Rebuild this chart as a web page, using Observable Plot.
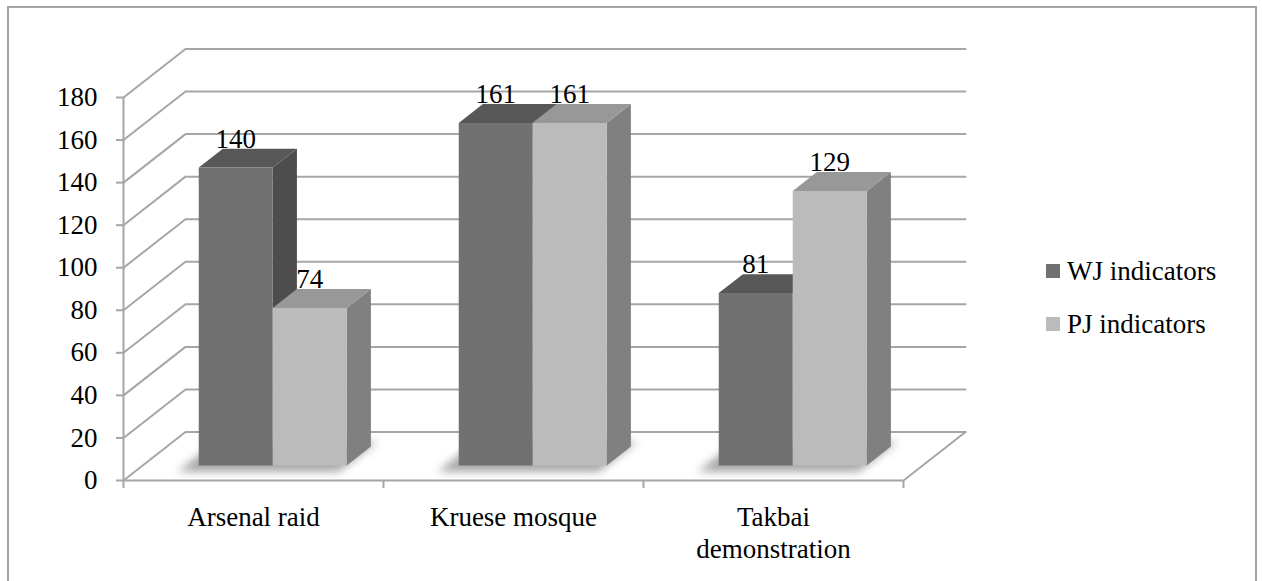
<!DOCTYPE html>
<html>
<head>
<meta charset="utf-8">
<script src="https://cdn.jsdelivr.net/npm/d3@7"></script>
<script src="https://cdn.jsdelivr.net/npm/@observablehq/plot@0.6"></script>
<style>
  html, body { margin: 0; padding: 0; background: #fff; overflow: hidden; }
  #wrap { position: relative; width: 1262px; height: 581px; overflow: hidden; }
  #frame { position: absolute; left: 7px; top: 6px; width: 1246px; height: 600px;
           border: 2px solid #a3a3a3; border-bottom: none; pointer-events: none; }
  #legend { position: absolute; left: 1046px; top: 253px; font-family: "Liberation Serif", serif;
            font-size: 27px; color: #000; }
  #legend .row { display: flex; align-items: center; height: 36px; margin-bottom: 17px; }
  #legend .sw { width: 14px; height: 14px; margin-right: 7px; }
</style>
</head>
<body>
<div id="wrap">
  <div id="chart"></div>
  <div id="frame"></div>
  <div id="legend"></div>
</div>
<script>
// ---- data ----
const categories = ["Arsenal raid", "Kruese mosque", "Takbai\ndemonstration"];
const series = ["WJ indicators", "PJ indicators"];
const wjValues = [140, 161, 81];
const pjValues = [74, 161, 129];
const yTicks = [0, 20, 40, 60, 80, 100, 120, 140, 160, 180];

// ---- styles ----
const frontColors = ["#717171", "#bbbbbb"];
const topColors = ["#585858", "#989898"];
const sideColors = ["#4d4d4d", "#808080"];
const gridColor = "#a6a6a6";
const font = "Liberation Serif";

// 3-D geometry (in data units): depth of the box along x (bands) and y (values)
const Dx = 0.2385, Dy = 22.8;
const barW = 0.2846, barGap = 0.2154;
const tf = 0.31, tb = 0.70;

const valuesBySeries = [wjValues, pjValues];

function barPolys(s) {
  const faces = {front: [], top: [], side: []};
  valuesBySeries[s].forEach((v, i) => {
    const xL = i + barGap + s * barW + tf * Dx, xR = xL + barW;
    const y0 = tf * Dy, yv = v + tf * Dy;
    const ddx = (tb - tf) * Dx, ddy = (tb - tf) * Dy;
    const id = `${s}-${i}`;
    faces.front.push(...[[xL, y0], [xR, y0], [xR, yv], [xL, yv]].map(([x, y]) => ({x, y, id})));
    faces.top.push(...[[xL, yv], [xR, yv], [xR + ddx, yv + ddy], [xL + ddx, yv + ddy]].map(([x, y]) => ({x, y, id})));
    faces.side.push(...[[xR, y0], [xR, yv], [xR + ddx, yv + ddy], [xR + ddx, y0 + ddy]].map(([x, y]) => ({x, y, id})));
  });
  return faces;
}

const labels = [];
valuesBySeries.forEach((vals, s) => vals.forEach((v, i) => {
  labels.push({x: i + barGap + s * barW + tf * Dx + barW / 2, y: v + tb * Dy, text: String(v)});
}));

// gridlines: front-left diagonal + back wall horizontal
const grid = [];
yTicks.forEach(t => {
  grid.push({x: 0, y: t, id: t}, {x: Dx, y: t + Dy, id: t}, {x: categories.length + Dx, y: t + Dy, id: t});
});
const floorEdge = [
  {x: 0, y: 0}, {x: categories.length, y: 0}, {x: categories.length + Dx, y: Dy}
];

// soft shadows on the floor beneath each pair
const shadows = [];
categories.forEach((c, i) => {
  const xa = i + barGap - 0.05, xb = i + barGap + 2 * barW;
  [[xa + 0.18 * Dx, 0.18 * Dy], [xb + 0.18 * Dx, 0.18 * Dy], [xb + 0.8 * Dx, 0.8 * Dy], [xa + 0.8 * Dx, 0.8 * Dy]]
    .forEach(([x, y]) => shadows.push({x, y, id: i}));
});

const wj = barPolys(0), pj = barPolys(1);
const poly = (data, fill) => Plot.line(data, {x: "x", y: "y", z: "id", fill, stroke: "none", curve: "linear-closed"});

const plot = Plot.plot({
  width: 1262,
  height: 581,
  marginLeft: 123,
  marginRight: 359,
  marginTop: 97,
  marginBottom: 101,
  x: {type: "linear", domain: [0, categories.length], axis: null},
  y: {type: "linear", domain: [0, 180], axis: null},
  style: {fontFamily: font, fontSize: "27px", color: "#000", background: "transparent"},
  marks: [
    Plot.line(grid, {x: "x", y: "y", z: "id", stroke: gridColor, strokeWidth: 2}),
    Plot.line(floorEdge, {x: "x", y: "y", stroke: gridColor, strokeWidth: 2}),
    Plot.ruleX([0], {y1: 0, y2: 180, stroke: gridColor, strokeWidth: 2}),
    Plot.axisY({ticks: yTicks, tickSize: 7, tickPadding: 19, stroke: gridColor, strokeWidth: 2, fill: "#000", fontSize: 27, label: null}),
    Plot.axisX({ticks: [0, 1, 2, 3], tickSize: 8, tickFormat: () => "", stroke: gridColor, strokeWidth: 2, label: null}),
    Plot.line(shadows, {x: "x", y: "y", z: "id", fill: "#8a8a8a", fillOpacity: 0.75, stroke: "none", curve: "linear-closed", imageFilter: "blur(4px)"}),
    Plot.text(labels, {x: "x", y: "y", text: "text", lineAnchor: "bottom", dy: -1, fontSize: 27, fill: "#000"}),
    poly(wj.side, sideColors[0]),
    poly(wj.top, topColors[0]),
    poly(wj.front, frontColors[0]),
    poly(pj.side, sideColors[1]),
    poly(pj.top, topColors[1]),
    poly(pj.front, frontColors[1]),
    Plot.text(categories, {x: (d, i) => i + 0.5, y: () => 0, text: d => d, lineAnchor: "top", dy: 23, fontSize: 27, lineHeight: 1.18, fill: "#000"})
  ]
});
document.getElementById("chart").appendChild(plot);

// legend
const legend = document.getElementById("legend");
series.forEach((name, s) => {
  const row = document.createElement("div");
  row.className = "row";
  const sw = document.createElement("div");
  sw.className = "sw";
  sw.style.background = frontColors[s];
  const t = document.createElement("span");
  t.textContent = name;
  row.appendChild(sw);
  row.appendChild(t);
  legend.appendChild(row);
});
</script>
</body>
</html>
